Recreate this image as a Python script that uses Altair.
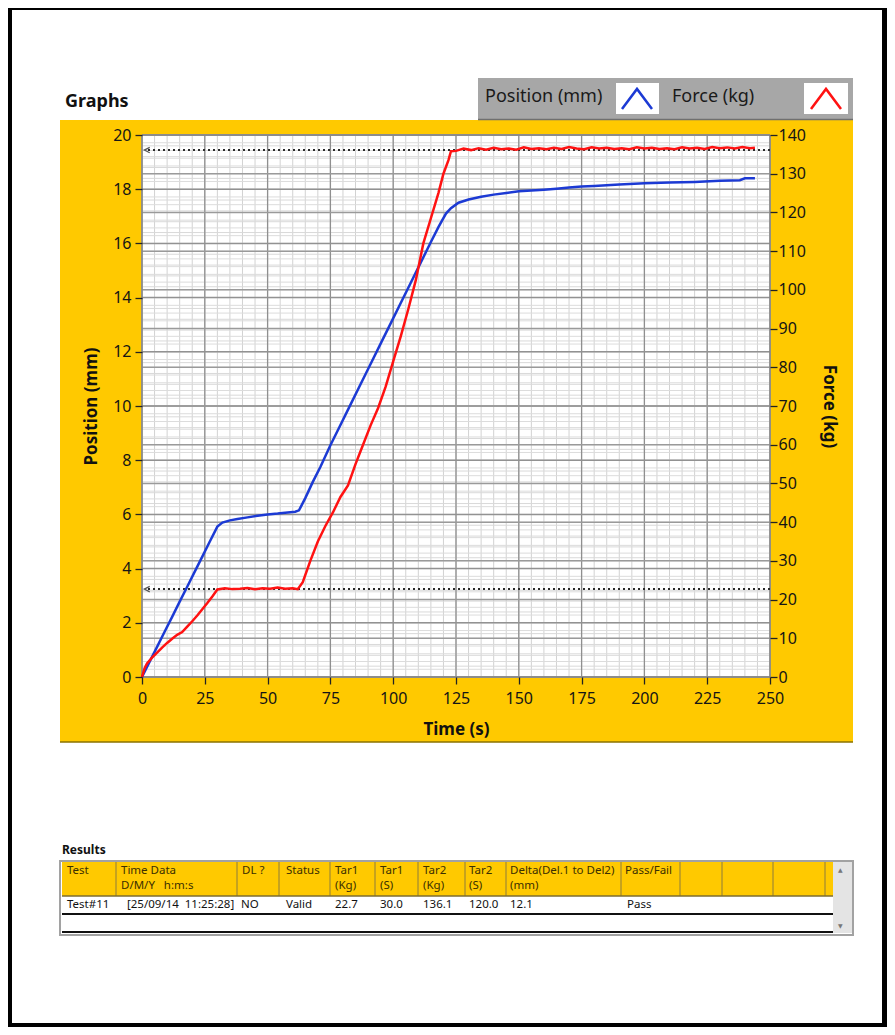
import altair as alt
import pandas as pd

# ---------------- values ----------------
pos_time = [0, 3, 6, 9, 12, 15, 18, 21, 24, 27, 30, 32, 35, 38, 42, 46, 50, 54, 58, 61,
            62.5, 65, 68, 71, 75, 79, 83, 87, 91, 95, 99, 103, 107, 111, 115, 118, 121,
            123, 126, 130, 135, 140, 145, 150, 155, 160, 165, 170, 175, 180, 190, 200,
            210, 220, 230, 238, 240, 244]
pos_mm = [0, 0.56, 1.11, 1.67, 2.22, 2.78, 3.33, 3.89, 4.44, 5.0, 5.55, 5.7, 5.78, 5.83,
          5.89, 5.95, 6.0, 6.03, 6.07, 6.1, 6.15, 6.6, 7.2, 7.75, 8.55, 9.3, 10.05, 10.8,
          11.55, 12.3, 13.05, 13.8, 14.55, 15.3, 16.05, 16.6, 17.1, 17.3, 17.5, 17.62,
          17.72, 17.8, 17.86, 17.92, 17.95, 17.98, 18.02, 18.06, 18.1, 18.12, 18.17,
          18.22, 18.25, 18.27, 18.31, 18.33, 18.4, 18.4]

force_time = [0, 1, 2, 4, 6, 8, 10, 12, 14, 16, 18, 20, 22, 24, 26, 28, 30, 33, 36, 39,
              42, 45, 48, 51, 54, 57, 60, 62, 64, 67, 70, 73, 76, 79, 82, 85, 88, 91, 94,
              97, 100, 103, 106, 109, 112, 115, 118, 120, 122, 123, 125, 128, 131, 134,
              137, 140, 143, 146, 149, 152, 155, 158, 161, 164, 167, 170, 173, 176, 179,
              182, 185, 188, 191, 194, 197, 200, 203, 206, 209, 212, 215, 218, 221, 224,
              227, 230, 233, 236, 239, 242, 244]
force_kg = [0, 2.2, 3.5, 5.0, 6.3, 7.6, 8.8, 9.9, 10.9, 11.6, 13.0, 14.4, 15.9, 17.5, 19.1,
            20.8, 22.6, 22.9, 22.7, 22.8, 23.0, 22.7, 22.9, 22.8, 23.1, 22.8, 22.9, 22.7,
            24.5, 30.0, 35.0, 39.0, 42.5, 46.5, 49.5, 55.0, 60.0, 65.0, 69.5, 75.0, 81.5,
            88.0, 95.0, 102.5, 112.0, 118.5, 125.0, 130.0, 133.5, 135.8, 135.9, 136.5,
            136.1, 136.6, 136.2, 136.7, 136.3, 136.5, 136.2, 136.8, 136.4, 136.6, 136.3,
            136.7, 136.4, 136.9, 136.5, 136.3, 136.8, 136.5, 136.7, 136.4, 136.6, 136.3,
            136.8, 136.5, 136.7, 136.4, 136.6, 136.3, 136.8, 136.5, 136.7, 136.4, 136.9,
            136.6, 136.8, 136.5, 136.9, 136.6, 136.7]

target_kg = [22.7, 136.1]

time_ticks = [0, 25, 50, 75, 100, 125, 150, 175, 200, 225, 250]
time_minor = list(range(0, 251, 5))
pos_ticks = list(range(0, 21, 2))
pos_minor = [i * 0.4 for i in range(0, 51)]
force_ticks = list(range(0, 141, 10))
force_minor = list(range(0, 141, 2))

legend_labels = ["Position (mm)", "Force (kg)"]

NB = "\u00a0"
tbl_head1 = ["Test", "Time Data", "DL ?", "Status", "Tar1", "Tar1", "Tar2", "Tar2",
             "Delta(Del.1 to Del2)", "Pass/Fail"]
tbl_head2 = ["", "D/M/Y" + NB * 3 + "h:m:s", "", "", "(Kg)", "(S)", "(Kg)", "(S)", "(mm)", ""]
tbl_row = ["Test#11", "[25/09/14" + NB * 2 + "11:25:28]", "NO", "Valid", "22.7", "30.0",
           "136.1", "120.0", "12.1", "Pass"]

# ---------------- layout (page pixels) ----------------
X0, Y0, W, H = 142, 135, 628, 542
CHART_W, CHART_H = 879, 1019
FONT = "Noto Sans"
YELLOW = "#FFC900"
BLUE = "#1c3ad4"
RED = "#ff1212"

head_x_page = [67, 121, 242, 286, 335, 380, 423, 469, 510, 625]
row_x_page = [67, 127, 241, 286, 335, 380, 423, 469, 510, 627]
sep_x_page = [116, 237, 279, 330, 375, 418, 465, 506, 621, 680, 722, 773, 825]


def px(x):
    return x - X0


def py(y):
    return y - Y0


one = pd.DataFrame({"k": [0]})


def box(x1, y1, x2, y2, **kw):
    return alt.Chart(one).mark_rect(**kw).encode(
        x=alt.value(px(x1)), x2=alt.value(px(x2)), y=alt.value(py(y1)), y2=alt.value(py(y2)))


def hline(x1, x2, y, **kw):
    return alt.Chart(one).mark_rule(**kw).encode(
        x=alt.value(px(x1)), x2=alt.value(px(x2)), y=alt.value(py(y)))


def label(x, y, txt, **kw):
    base = dict(align="left", baseline="middle", font=FONT, color="#111")
    base.update(kw)
    return alt.Chart(one).mark_text(text=txt, **base).encode(
        x=alt.value(px(x)), y=alt.value(py(y)))


xs = alt.Scale(domain=[0, 250], nice=False, zero=False)
ys_pos = alt.Scale(domain=[0, 20], nice=False, zero=False)
ys_f = alt.Scale(domain=[0, 140], nice=False, zero=False)

axis_style = dict(zindex=1, grid=False, domain=False, labelFont=FONT, labelFontSize=16,
                  labelColor="#151515", tickColor="#222", tickWidth=1.3, tickSize=7,
                  titleFont=FONT, titleFontSize=17, titleFontWeight="bold", titleColor="#111")

layers = []

# panel and header decorations
layers.append(box(60, 120, 853, 742, color=YELLOW))
layers.append(hline(60, 853, 742, color="#8a7200", strokeWidth=1.5))
layers.append(box(478, 78, 853, 120, color="#a7a7a7"))
layers.append(hline(478, 853, 119.5, color="#6f6f6f", strokeWidth=1.5))
layers.append(box(616, 83, 659, 114, color="white"))
layers.append(box(804, 83, 848, 114, color="white"))
layers.append(label(65, 102, "Graphs", fontSize=18, fontWeight="bold"))
layers.append(label(485, 97, legend_labels[0], fontSize=18, color="#1a1a1a"))
layers.append(label(672, 97, legend_labels[1], fontSize=18, color="#1a1a1a"))
caret = "M-1,0.67L0,-0.67L1,0.67"
layers.append(alt.Chart(one).mark_point(shape=caret, filled=False, size=900, strokeWidth=2.5,
                                        color=BLUE, opacity=1).encode(
    x=alt.value(px(637)), y=alt.value(py(99))))
layers.append(alt.Chart(one).mark_point(shape=caret, filled=False, size=900, strokeWidth=2.5,
                                        color=RED, opacity=1).encode(
    x=alt.value(px(826)), y=alt.value(py(99))))

# plot area
layers.append(alt.Chart(one).mark_rect(color="white").encode(
    x=alt.value(0), x2=alt.value(W), y=alt.value(0), y2=alt.value(H)))

# grid
layers.append(alt.Chart(pd.DataFrame({"t": time_minor})).mark_rule(color="#d2d2d2", strokeWidth=1).encode(
    x=alt.X("t:Q", scale=xs, axis=None), y=alt.value(0), y2=alt.value(H)))
layers.append(alt.Chart(pd.DataFrame({"v": pos_minor})).mark_rule(color="#d9d9d9", strokeWidth=1).encode(
    y=alt.Y("v:Q", scale=ys_pos, axis=None), x=alt.value(0), x2=alt.value(W)))
layers.append(alt.Chart(pd.DataFrame({"v": force_minor})).mark_rule(color="#dcdcdc", strokeWidth=1).encode(
    y=alt.Y("v:Q", scale=ys_f, axis=None), x=alt.value(0), x2=alt.value(W)))
layers.append(alt.Chart(pd.DataFrame({"t": time_ticks})).mark_rule(color="#8f8f8f", strokeWidth=1.3).encode(
    x=alt.X("t:Q", scale=xs, axis=None), y=alt.value(0), y2=alt.value(H)))
layers.append(alt.Chart(pd.DataFrame({"v": pos_ticks})).mark_rule(color="#929292", strokeWidth=1.5).encode(
    y=alt.Y("v:Q", scale=ys_pos, axis=None), x=alt.value(0), x2=alt.value(W)))
layers.append(alt.Chart(pd.DataFrame({"v": force_ticks})).mark_rule(color="#9a9a9a", strokeWidth=1.5).encode(
    y=alt.Y("v:Q", scale=ys_f, axis=None), x=alt.value(0), x2=alt.value(W)))

# plot border
layers.append(alt.Chart(one).mark_rect(filled=False, stroke="#7c7c7c", strokeWidth=1).encode(
    x=alt.value(0), x2=alt.value(W), y=alt.value(0), y2=alt.value(H)))

# target dotted lines
tar_df = pd.DataFrame({"kg": target_kg})
layers.append(alt.Chart(tar_df).mark_rule(color="#2a2a2a", strokeWidth=2, strokeDash=[2, 3]).encode(
    y=alt.Y("kg:Q", scale=ys_f, axis=None), x=alt.value(6), x2=alt.value(W)))
layers.append(alt.Chart(tar_df).mark_point(shape="M1,-1L-1,0L1,1", filled=False, size=30,
                                           color="#555", strokeWidth=1.2, opacity=1).encode(
    y=alt.Y("kg:Q", scale=ys_f, axis=None), x=alt.value(5)))

# data lines
layers.append(alt.Chart(pd.DataFrame({"t": pos_time, "mm": pos_mm})).mark_line(
    color=BLUE, strokeWidth=2.5).encode(
    x=alt.X("t:Q", scale=xs, title="Time (s)",
            axis=alt.Axis(orient="bottom", values=time_ticks, titlePadding=15, labelPadding=6,
                          labelFlush=False, **axis_style)),
    y=alt.Y("mm:Q", scale=ys_pos, title="Position (mm)",
            axis=alt.Axis(orient="left", values=pos_ticks, titlePadding=12, labelPadding=4,
                          **axis_style))))
layers.append(alt.Chart(pd.DataFrame({"t": force_time, "kg": force_kg})).mark_line(
    color=RED, strokeWidth=2.5).encode(
    x=alt.X("t:Q", scale=xs, axis=None),
    y=alt.Y("kg:Q", scale=ys_f, title="Force (kg)",
            axis=alt.Axis(orient="right", values=force_ticks, titlePadding=14, labelPadding=1,
                          **axis_style))))

# results table
layers.append(label(62, 850, "Results", fontSize=12, fontWeight="bold"))
layers.append(box(62, 862, 833, 896, color=YELLOW))
layers.append(box(833, 862, 852, 933, color="#e4e4e4"))
layers.append(label(838, 870, "▲", fontSize=6, color="#777", font="DejaVu Sans"))
layers.append(label(838, 926, "▼", fontSize=6, color="#777", font="DejaVu Sans"))
sep_df = pd.DataFrame({"x": [px(v) for v in sep_x_page]})
layers.append(alt.Chart(sep_df).mark_rule(color="#8d7c3c", strokeWidth=1).encode(
    x=alt.X("x:Q", scale=None, axis=None), y=alt.value(py(862)), y2=alt.value(py(896))))
layers.append(hline(62, 833, 896, color="#7d6c30", strokeWidth=1.5))
layers.append(hline(62, 833, 914, color="#111", strokeWidth=2))
layers.append(hline(62, 833, 932, color="#111", strokeWidth=2))
layers.append(box(60, 861, 853, 935, filled=False, stroke="#a2a2a2", strokeWidth=2))

head_df = pd.DataFrame({"x": [px(v) for v in head_x_page], "h1": tbl_head1, "h2": tbl_head2})
row_df = pd.DataFrame({"x": [px(v) for v in row_x_page], "v": tbl_row})
for col, yy, df, colr in [("h1", 871, head_df, "#3b2f00"), ("h2", 886, head_df, "#3b2f00"),
                          ("v", 905, row_df, "#111")]:
    layers.append(alt.Chart(df).mark_text(align="left", baseline="middle", font=FONT,
                                          fontSize=11.5, color=colr).encode(
        x=alt.X("x:Q", scale=None, axis=None), y=alt.value(py(yy)), text=f"{col}:N"))

# page frame
layers.append(box(8, 8, 12, 1027, color="black"))
layers.append(box(8, 8, 887, 10, color="black"))
layers.append(box(882, 8, 887, 1027, color="black"))
layers.append(box(8, 1023, 887, 1027, color="black"))

chart = alt.layer(*layers).resolve_scale(x="independent", y="independent").properties(
    width=W, height=H,
    autosize=alt.AutoSizeParams(type="none"),
    padding={"left": X0 - 8, "top": Y0 - 8, "right": CHART_W - (X0 - 8) - W,
             "bottom": CHART_H - (Y0 - 8) - H},
    background="white",
).configure_view(stroke=None)

chart.save("out.html", embed_options={"renderer": "svg", "actions": False})
